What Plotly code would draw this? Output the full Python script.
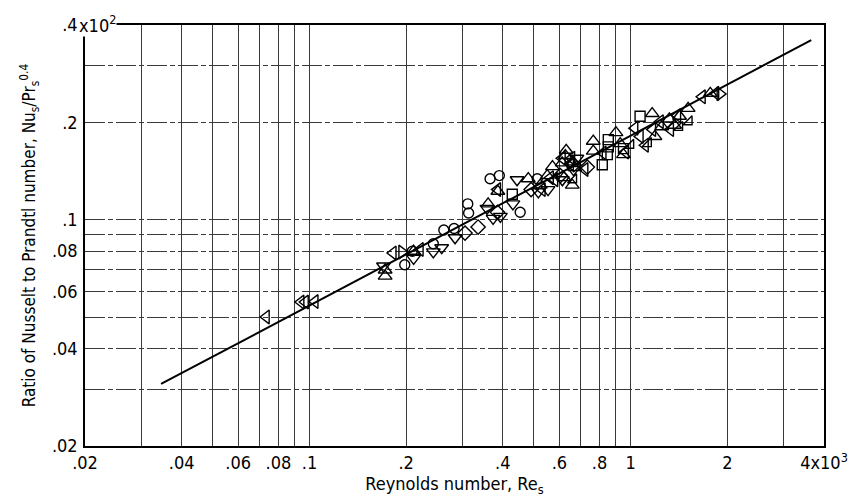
import plotly.graph_objects as go

# ---- axis labelling ----
x_tickvals = [0.02, 0.04, 0.06, 0.08, 0.1, 0.2, 0.4, 0.6, 0.8, 1, 2, 4]
x_ticktext = [".02", ".04", ".06", ".08", ".1", ".2", ".4", ".6", ".8", "1", "2", "4x10<sup>3</sup>"]
y_tickvals = [0.02, 0.04, 0.06, 0.08, 0.1, 0.2, 0.4]
y_ticktext = [".02", ".04", ".06", ".08", ".1", ".2", ".4"]
y_multiplier = "x10<sup>2</sup>"
x_grid = [0.03, 0.05, 0.07, 0.09, 0.3, 0.5, 0.7, 0.9, 3]
y_grid = [0.03, 0.05, 0.07, 0.09, 0.3]

# ---- correlation line ----
line_re = [0.0345, 3.65]
line_nu = [0.0311, 0.359]

# ---- data by symbol ----
circ_re = [0.198, 0.209, 0.243, 0.262, 0.282, 0.311, 0.313, 0.365, 0.39, 0.453, 0.512]
circ_nu = [0.0726, 0.080, 0.0843, 0.093, 0.094, 0.112, 0.105, 0.134, 0.137, 0.1055, 0.134]

diam_re = [0.305, 0.335, 0.385, 0.49, 0.604, 0.665, 0.733]
diam_nu = [0.091, 0.095, 0.1055, 0.124, 0.137, 0.148, 0.1455]

sq_re = [0.428, 0.816, 0.852, 0.852, 0.846, 1.07, 0.95]
sq_nu = [0.12, 0.148, 0.177, 0.168, 0.159, 0.209, 0.166]

up_re = [0.172, 0.172, 0.211, 0.36, 0.386, 0.48, 0.523, 0.571, 0.612, 0.63, 0.66, 0.658,
         0.67, 0.62, 0.765, 0.765, 0.9, 0.928, 0.95, 1.167, 1.19, 1.25, 1.32, 1.37,
         1.42, 1.51, 1.77, 0.55, 0.626]
up_nu = [0.070, 0.067, 0.080, 0.112, 0.1225, 0.134, 0.128, 0.146, 0.150, 0.164, 0.151, 0.128,
         0.145, 0.135, 0.175, 0.163, 0.186, 0.172, 0.159, 0.213, 0.181, 0.194, 0.205, 0.196,
         0.209, 0.221, 0.246, 0.137, 0.158]

se_re = [1.135, 1.42, 1.52, 0.664, 1.0]
se_nu = [0.172, 0.193, 0.201, 0.133, 0.17]

down_re = [0.17, 0.211, 0.243, 0.258, 0.284, 0.357, 0.373, 0.393, 0.43, 0.443, 0.516,
           0.553, 0.613, 0.664, 0.68]
down_nu = [0.072, 0.076, 0.0796, 0.082, 0.088, 0.1085, 0.101, 0.1025, 0.112, 0.133, 0.122,
           0.124, 0.133, 0.143, 0.155]

left_re = [0.0733, 0.094, 0.097, 0.104, 0.182, 0.221, 0.385, 0.53, 0.562, 0.612, 0.655,
           0.649, 0.72, 0.82, 0.963, 1.03, 1.07, 1.11, 1.17, 1.236, 1.33, 1.40, 1.67, 1.84, 0.58]
left_nu = [0.0501, 0.0557, 0.0557, 0.0559, 0.079, 0.081, 0.124, 0.124, 0.135, 0.155, 0.155,
           0.149, 0.143, 0.161, 0.162, 0.192, 0.181, 0.17, 0.19, 0.201, 0.19, 0.21, 0.24, 0.246, 0.133]

right_re = [0.194, 1.9]
right_nu = [0.0795, 0.245]

FONT = "DejaVu Sans Condensed"

fig = go.Figure()
fig.add_trace(go.Scatter(x=line_re, y=line_nu, mode="lines",
                         line=dict(color="black", width=2), showlegend=False))

def add(xs, ys, sym, size=11):
    fig.add_trace(go.Scatter(x=xs, y=ys, mode="markers", showlegend=False,
                             marker=dict(symbol=sym, size=size, color="black",
                                         line=dict(color="black", width=1.4))))

add(circ_re, circ_nu, "circle-open", 10)
add(diam_re, diam_nu, "diamond-open", 11)
add(sq_re, sq_nu, "square-open", 10)
add(up_re, up_nu, "triangle-up-open", 12)
add(se_re, se_nu, "triangle-se-open", 10)
add(down_re, down_nu, "triangle-down-open", 12)
add(left_re, left_nu, "triangle-left-open", 12)
add(right_re, right_nu, "triangle-right-open", 12)

axis_common = dict(type="log", showline=True, linecolor="black", linewidth=1.5,
                   mirror=True, ticks="", showgrid=True, gridcolor="#3a3a3a", gridwidth=1,
                   zeroline=False, automargin=False,
                   tickfont=dict(family=FONT, size=18, color="black"))

fig.update_xaxes(**axis_common,
                 range=[-1.69897, 0.60206], tickmode="array",
                 tickvals=x_tickvals, ticktext=x_ticktext,
                 minor=dict(tickmode="array", tickvals=x_grid, showgrid=True,
                            gridcolor="#3a3a3a", gridwidth=1, ticks=""),
                 title=dict(text="Reynolds number, Re<sub>s</sub>",
                            font=dict(family=FONT, size=18, color="black"), standoff=2))
fig.update_yaxes(**axis_common,
                 range=[-1.69897, -0.39794], tickmode="array",
                 tickvals=y_tickvals, ticktext=y_ticktext, griddash="20px,3px,5px,3px",
                 ticklabelstandoff=2,
                 minor=dict(tickmode="array", tickvals=y_grid, showgrid=True,
                            gridcolor="#3a3a3a", gridwidth=1, ticks="",
                            griddash="20px,3px,5px,3px"),
                 title=dict(text="Ratio of Nusselt to Prandtl number, Nu<sub>s</sub>/Pr<sub>s</sub><sup>0.4</sup>",
                            font=dict(family=FONT, size=17, color="black"), standoff=12))

fig.add_annotation(text=y_multiplier, xref="paper", yref="y domain", x=0, y=1,
                   xanchor="left", yanchor="middle", xshift=-7, yshift=1,
                   showarrow=False, bgcolor="white", borderpad=0,
                   font=dict(family=FONT, size=18, color="black"))

# page body adds ~8px offset; size the figure to fit the 857x504 window
fig.update_layout(width=849, height=496,
                  margin=dict(l=77, r=33, t=17, b=58),
                  paper_bgcolor="white", plot_bgcolor="white")

fig.write_html("out.html")
